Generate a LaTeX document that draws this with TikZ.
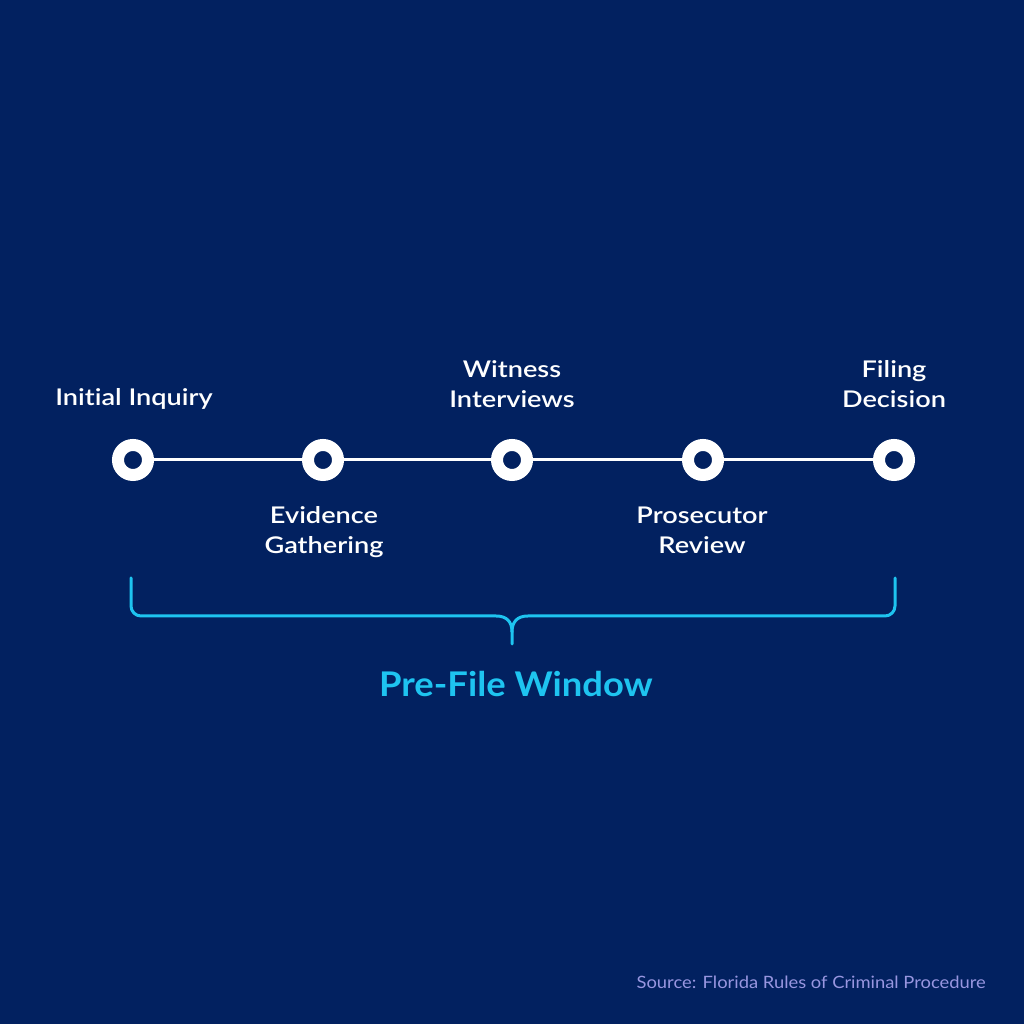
\documentclass[tikz,border=0pt]{standalone}
\usepackage{fontspec}
\setmainfont{Lato}[UprightFont=* Semibold, BoldFont=* Bold]
\newfontfamily\labfont{Lato}[UprightFont=* Semibold, FakeStretch=1.18, Ligatures=NoCommon]
\newfontfamily\titfont{Lato}[UprightFont=* Bold, FakeStretch=1.07, Ligatures=NoCommon]
\newfontfamily\srcfont{Lato}[FakeStretch=1.08, Ligatures=NoCommon]
\definecolor{bg}{RGB}{2,33,96}
\definecolor{cyanb}{RGB}{30,196,240}
\definecolor{lav}{RGB}{152,150,224}
\begin{document}
\begin{tikzpicture}[x=1pt,y=1pt,
  stepdot/.style={circle, draw=white, line width=12pt, minimum size=30pt, inner sep=0pt, fill=bg},
  lbl/.style={text=white, font=\labfont\fontsize{23}{30}\selectfont, align=center, inner sep=0pt},
  conn/.style={draw=white, line width=3pt},
  brace/.style={draw=cyanb, line width=3pt, line cap=round, line join=round}]
\fill[bg] (0,0) rectangle (1024,1024);
\useasboundingbox (0,0) rectangle (1024,1024);
\node[stepdot] (s1) at (133,564) {};
\node[stepdot] (s2) at (323,564) {};
\node[stepdot] (s3) at (512,564) {};
\node[stepdot] (s4) at (703,564) {};
\node[stepdot] (s5) at (894,564) {};
\draw[conn] (s1) -- (s2);
\draw[conn] (s2) -- (s3);
\draw[conn] (s3) -- (s4);
\draw[conn] (s4) -- (s5);
\node[lbl] (l1) at (134,625) {Initial Inquiry};
\node[lbl] (l3) at (512,640) {Witness\\Interviews};
\node[lbl] (l5) at (894,640) {Filing\\Decision};
\node[lbl] (l2) at (324,492) {Evidence\\Gathering};
\node[lbl] (l4) at (702,494) {Prosecutor\\Review};
\draw[brace] (131,446) -- (131,418) arc[start angle=180,end angle=270,radius=10] -- (496,408)
  .. controls (507,408) and (512,402) .. (512,392) -- (512,380);
\draw[brace] (895,446) -- (895,418) arc[start angle=0,end angle=-90,radius=10] -- (528,408)
  .. controls (517,408) and (512,402) .. (512,392);
\node[text=cyanb, font=\titfont\fontsize{34}{40}\selectfont, inner sep=0pt] (t) at (516,340) {Pre-File Window};
\node[text=lav, font=\srcfont\fontsize{17}{20}\selectfont, anchor=east, inner sep=0pt] (src) at (986,42) {Source: Florida Rules of Criminal Procedure};
\end{tikzpicture}
\end{document}
